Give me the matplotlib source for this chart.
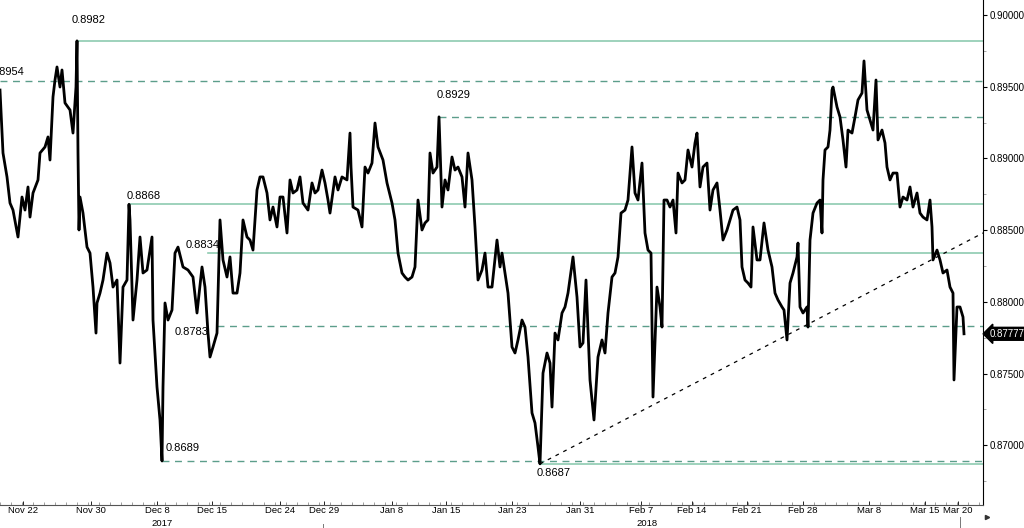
import matplotlib
matplotlib.use("Agg")
import matplotlib.pyplot as plt
from matplotlib.ticker import MultipleLocator, FixedLocator
import numpy as np

plt.rcParams['font.family'] = ['Liberation Sans', 'DejaVu Sans']

# bar number (chart bars, left to right) and price
bars = [0, 3, 7, 10, 13, 18, 22, 25, 28, 30, 33, 38, 40, 45, 48, 50, 53, 55, 57, 60,
        62, 65, 70, 73, 76, 77, 78, 79, 80, 83, 87, 90, 93, 96, 97, 100, 103, 107, 110, 113,
        117, 120, 123, 127, 129, 130, 133, 137, 140, 143, 147, 152, 153, 157, 160, 162, 163, 165, 168, 172,
        175, 178, 183, 188, 193, 197, 202, 205, 208, 210, 213, 217, 220, 223, 227, 230, 233, 237, 240, 243,
        247, 250, 253, 257, 260, 263, 267, 270, 273, 277, 280, 283, 287, 290, 293, 297, 300, 303, 308, 312,
        315, 318, 322, 325, 328, 330, 335, 338, 342, 347, 350, 351, 353, 358, 362, 365, 368, 372, 375, 378,
        383, 387, 392, 395, 398, 402, 405, 408, 412, 415, 418, 422, 425, 428, 430, 433, 437, 439, 442, 445,
        448, 452, 455, 458, 462, 465, 468, 472, 475, 478, 482, 485, 488, 492, 497, 500, 502, 505, 508, 512,
        515, 518, 522, 525, 528, 532, 535, 538, 540, 543, 547, 550, 552, 555, 558, 562, 565, 568, 573, 577,
        580, 583, 586, 590, 594, 598, 602, 605, 608, 612, 615, 618, 621, 625, 628, 632, 635, 638, 642, 645,
        648, 651, 653, 657, 660, 662, 664, 667, 670, 673, 676, 678, 682, 685, 688, 692, 695, 697, 700, 703,
        707, 710, 713, 717, 720, 723, 727, 730, 733, 737, 740, 742, 745, 748, 751, 753, 757, 760, 764, 768,
        772, 775, 778, 782, 784, 787, 790, 793, 797, 798, 800, 803, 807, 808, 810, 813, 817, 820, 822, 823,
        825, 828, 830, 832, 833, 837, 840, 843, 846, 848, 852, 855, 858, 862, 864, 867, 870, 873, 876, 878,
        882, 885, 887, 890, 893, 897, 900, 903, 907, 910, 913, 917, 920, 923, 927, 930, 932, 933, 937, 940,
        943, 947, 950, 953, 954, 957, 960, 963, 964]
prices = [0.89477, 0.89038, 0.88871, 0.88689, 0.88640, 0.88452, 0.88731, 0.88640, 0.88801, 0.88591,
          0.88759, 0.88850, 0.89038, 0.89080, 0.89150, 0.88989, 0.89429, 0.89547, 0.89638, 0.89498,
          0.89617, 0.89387, 0.89338, 0.89177, 0.89498, 0.89820, 0.89038, 0.88501, 0.88731, 0.88619,
          0.88382, 0.88340, 0.88103, 0.87782, 0.87992, 0.88061, 0.88152, 0.88340, 0.88271, 0.88103,
          0.88152, 0.87573, 0.88103, 0.88152, 0.88680, 0.88571, 0.87873, 0.88152, 0.88452, 0.88201,
          0.88222, 0.88452, 0.87873, 0.87406, 0.87176, 0.86890, 0.87406, 0.87992, 0.87873, 0.87943,
          0.88340, 0.88382, 0.88243, 0.88222, 0.88173, 0.87922, 0.88243, 0.88103, 0.87782, 0.87615,
          0.87685, 0.87782, 0.88571, 0.88292, 0.88173, 0.88313, 0.88061, 0.88061, 0.88201, 0.88571,
          0.88452, 0.88431, 0.88361, 0.88780, 0.88871, 0.88871, 0.88759, 0.88571, 0.88661, 0.88522,
          0.88731, 0.88731, 0.88480, 0.88850, 0.88759, 0.88780, 0.88871, 0.88689, 0.88640, 0.88829,
          0.88759, 0.88780, 0.88919, 0.88829, 0.88710, 0.88619, 0.88871, 0.88780, 0.88871, 0.88850,
          0.89177, 0.88940, 0.88661, 0.88640, 0.88522, 0.88940, 0.88898, 0.88968, 0.89247, 0.89080,
          0.88989, 0.88829, 0.88689, 0.88571, 0.88340, 0.88201, 0.88173, 0.88152, 0.88173, 0.88243,
          0.88710, 0.88501, 0.88550, 0.88571, 0.89038, 0.88898, 0.88940, 0.89290, 0.88661, 0.88850,
          0.88780, 0.89010, 0.88919, 0.88940, 0.88871, 0.88661, 0.89038, 0.88850, 0.88522, 0.88152,
          0.88222, 0.88340, 0.88103, 0.88103, 0.88431, 0.88243, 0.88340, 0.88201, 0.88061, 0.87685,
          0.87643, 0.87734, 0.87873, 0.87824, 0.87615, 0.87225, 0.87155, 0.86988, 0.86870, 0.87503,
          0.87643, 0.87573, 0.87266, 0.87782, 0.87734, 0.87922, 0.87964, 0.88061, 0.88313, 0.88033,
          0.87685, 0.87713, 0.88152, 0.87455, 0.87176, 0.87615, 0.87734, 0.87643, 0.87922, 0.88173,
          0.88201, 0.88313, 0.88619, 0.88640, 0.88710, 0.89080, 0.88759, 0.88710, 0.88968, 0.88480,
          0.88361, 0.88340, 0.87336, 0.88103, 0.87964, 0.87824, 0.88710, 0.88710, 0.88661, 0.88710,
          0.88480, 0.88898, 0.88829, 0.88850, 0.89059, 0.88940, 0.89108, 0.89177, 0.88801, 0.88940,
          0.88968, 0.88640, 0.88780, 0.88829, 0.88640, 0.88431, 0.88501, 0.88571, 0.88640, 0.88661,
          0.88571, 0.88243, 0.88152, 0.88131, 0.88103, 0.88522, 0.88292, 0.88292, 0.88550, 0.88361,
          0.88243, 0.88061, 0.88013, 0.87964, 0.87943, 0.87734, 0.88131, 0.88201, 0.88313, 0.88410,
          0.87964, 0.87922, 0.87964, 0.87824, 0.88431, 0.88619, 0.88689, 0.88710, 0.88480, 0.88850,
          0.89059, 0.89080, 0.89198, 0.89477, 0.89498, 0.89359, 0.89289, 0.89129, 0.88940, 0.89198,
          0.89177, 0.89289, 0.89408, 0.89456, 0.89680, 0.89338, 0.89268, 0.89198, 0.89547, 0.89129,
          0.89198, 0.89108, 0.88940, 0.88850, 0.88898, 0.88898, 0.88661, 0.88731, 0.88710, 0.88801,
          0.88661, 0.88759, 0.88619, 0.88591, 0.88571, 0.88710, 0.88522, 0.88292, 0.88361, 0.88292,
          0.88201, 0.88222, 0.88103, 0.88061, 0.87455, 0.87964, 0.87964, 0.87894, 0.87777]

# support / resistance levels
level_prices = [0.8982, 0.8954, 0.8929, 0.8868, 0.8834, 0.8783, 0.8689, 0.8687]
level_start = [77, 0, 439, 129, 208, 217, 162, 540]
level_dashed = [False, True, True, False, False, True, True, False]
level_text = ["0.8982", "0.8954", "0.8929", "0.8868", "0.8834", "0.8783", "0.8689", "0.8687"]
label_dx = [-5, -9.5, -2, -2, -22, -42, 4, -3]      # px
label_dy = [21, 9, 22, 8, 8, -6, 13, -9]           # px

# trend line from the Jan low
trend_bars = [540, 983]
trend_prices = [0.8687, 0.8848]

last_price = 0.87777

tick_pos = [23, 91, 157, 212, 280, 324, 392, 446, 512, 580, 641, 692, 747, 803, 869, 925, 958]
tick_lbl = ["Nov 22", "Nov 30", "Dec 8", "Dec 15", "Dec 24", "Dec 29", "Jan 8", "Jan 15", "Jan 23",
            "Jan 31", "Feb 7", "Feb 14", "Feb 21", "Feb 28", "Mar 8", "Mar 15", "Mar 20"]
years = ["2017", "2018"]
year_pos = [162, 647]

fig = plt.figure(figsize=(10.24, 5.28), dpi=100)
ax = fig.add_axes([0, 23 / 528, 983 / 1024, 505 / 528])
ax.set_xlim(0, 983)
ax.set_ylim(0.86583, 0.90105)

solid_c = "#8ecbb0"
dash_c = "#5c9e8b"
for p, s, d, t, dx, dy in zip(level_prices, level_start, level_dashed, level_text, label_dx, label_dy):
    if d:
        ax.plot([s, 983], [p, p], color=dash_c, lw=1.0, ls=(0, (5, 4)), zorder=1)
    else:
        ax.plot([s, 983], [p, p], color=solid_c, lw=1.2, zorder=1)
    ax.annotate(t, xy=(s, p), xytext=(dx * 0.72, dy * 0.72), textcoords="offset points",
                ha="left", va="center", fontsize=8, color="black", annotation_clip=False)

ax.plot(trend_bars, trend_prices, color="black", lw=0.9, ls=(0, (3, 4)), zorder=2)
ax.plot(bars, prices, color="black", lw=2.0, zorder=3)

for sp in ["top", "left"]:
    ax.spines[sp].set_visible(False)
ax.spines["right"].set_color("black")
ax.spines["bottom"].set_color("#555555")

ax.yaxis.tick_right()
ax.yaxis.set_major_locator(MultipleLocator(0.005))
ax.yaxis.set_minor_locator(MultipleLocator(0.0025))
ax.yaxis.set_major_formatter(matplotlib.ticker.FormatStrFormatter("%.5f"))
ax.tick_params(axis="y", which="major", length=3, width=0.8, labelsize=7, pad=1.5)
ax.tick_params(axis="y", which="minor", length=2, width=0.6, color="#999999")

ax.xaxis.set_major_locator(FixedLocator(tick_pos))
ax.set_xticklabels(tick_lbl)
ax.xaxis.set_minor_locator(MultipleLocator(11))
ax.tick_params(axis="x", which="major", direction="in", length=3, width=0.6, labelsize=6.8, pad=1)
ax.tick_params(axis="x", which="minor", direction="in", length=2, width=0.5, color="#777777")

xt = ax.get_xaxis_transform()
for yl, xp in zip(years, year_pos):
    ax.text(xp, -0.036, yl, transform=xt, ha="center", va="center", fontsize=6.8)

# year separators on the date axis
ax.plot([323, 323], [-0.037, -0.05], color="#777777", lw=0.7, transform=xt, clip_on=False)
ax.plot([960, 960], [-0.024, -0.05], color="#777777", lw=0.7, transform=xt, clip_on=False)
ax.plot([987], [-0.024], marker=">", ms=3, color="#333333", transform=xt, clip_on=False)

# last price tag
ax.annotate(f"{last_price:.5f}", xy=(983, last_price), xytext=(5, 0), textcoords="offset points",
            ha="left", va="center", fontsize=7, color="white", annotation_clip=False,
            bbox=dict(boxstyle="larrow,pad=0.15", fc="black", ec="black"))

fig.savefig("out.png", dpi=100)
